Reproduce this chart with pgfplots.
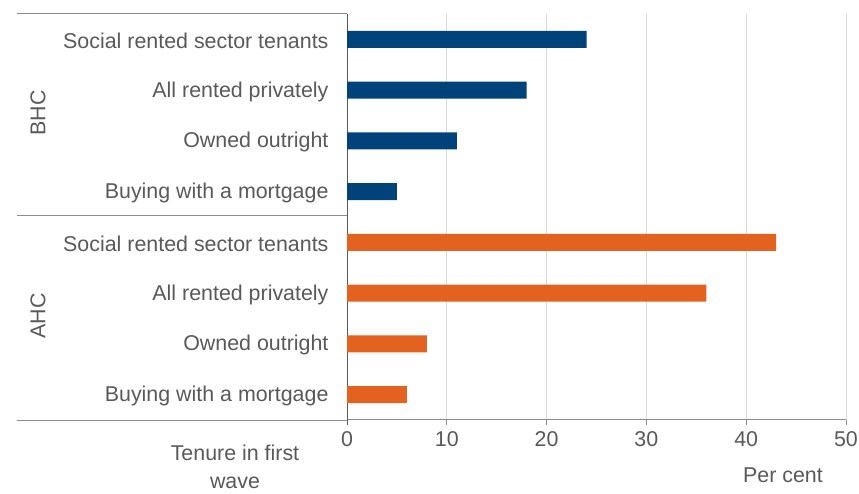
\documentclass[border=0pt]{standalone}
\usepackage{pgfplots}
\pgfplotsset{compat=1.18}
\usepackage{fontspec}
\setmainfont{Liberation Sans}
\definecolor{bhcblue}{HTML}{00437A}
\definecolor{ahcorange}{HTML}{E36220}
\definecolor{txtgray}{HTML}{595959}
\definecolor{axgray}{HTML}{8C8C8C}
\definecolor{gridgray}{HTML}{D9D9D9}
\begin{document}
\begin{tikzpicture}[x=1pt,y=1pt]
\useasboundingbox (0,0) rectangle (859,493);
\begin{axis}[
  at={(347pt,479pt)}, anchor=north west,
  scale only axis, width=499pt, height=406pt,
  xmin=0, xmax=50, ymin=0.5, ymax=8.5,
  xtick={0,10,...,50},
  ytick={1,...,8},
  yticklabels={Buying with a mortgage, Owned outright, All rented privately, Social rented sector tenants,
               Buying with a mortgage, Owned outright, All rented privately, Social rented sector tenants},
  xmajorgrids, grid style={gridgray, line width=1pt},
  axis x line*=bottom, axis y line*=left,
  x axis line style={axgray, line width=1pt},
  y axis line style={txtgray, line width=1pt},
  xtick align=outside, major tick length=5pt,
  xtick style={axgray, line width=1pt},
  ytick style={draw=none},
  tick label style={font=\fontsize{21.4}{25}\selectfont, text=txtgray},
  yticklabel style={xshift=-10pt, yshift=-1.5pt},
  xticklabel style={yshift=-3pt},
  /pgf/number format/assume math mode=true,
  xbar, bar width=17pt, bar shift=0pt,
  clip=false,
]
\addplot[fill=bhcblue, draw=none] coordinates {(24,8) (18,7) (11,6) (5,5)};
\addplot[fill=ahcorange, draw=none] coordinates {(43,4) (36,3) (8,2) (6,1)};
\end{axis}
\draw[axgray, line width=1pt] (17,479) -- (347,479);
\draw[axgray, line width=1pt] (17,277) -- (347,277);
\draw[axgray, line width=1pt] (17,73) -- (347,73);
\draw[txtgray, line width=1pt] (347,73) -- (347,68);
\node[rotate=90, text=txtgray, font=\fontsize{21.4}{25}\selectfont] at (38,380) {BHC};
\node[rotate=90, text=txtgray, font=\fontsize{21.4}{25}\selectfont] at (38,177) {AHC};
\node[align=center, text=txtgray, font=\fontsize{21.4}{28}\selectfont] at (235,26) {Tenure in first\\wave};
\node[text=txtgray, font=\fontsize{21.4}{25}\selectfont] at (783,18) {Per cent};
\end{tikzpicture}
\end{document}
